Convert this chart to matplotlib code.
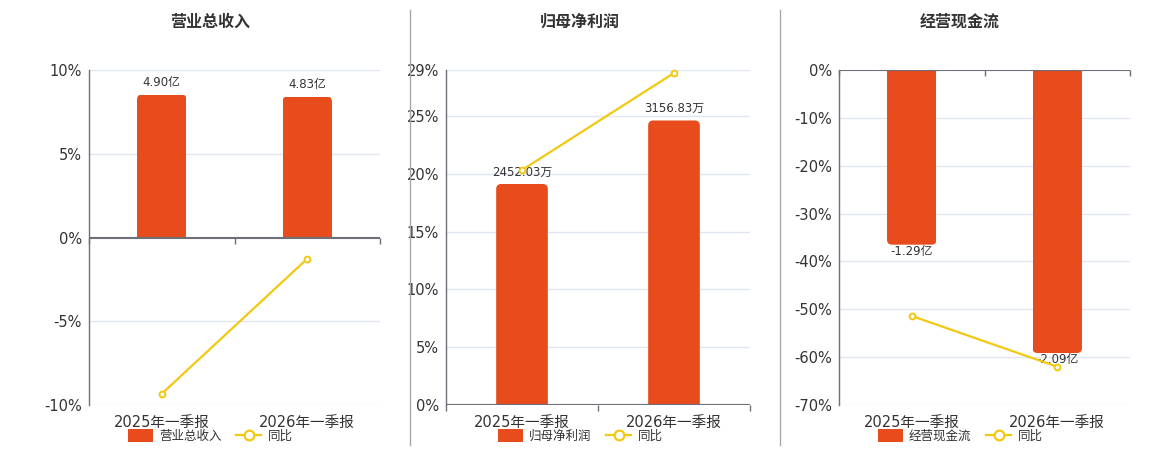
import matplotlib
matplotlib.use("Agg")
import matplotlib.pyplot as plt
from matplotlib.patches import FancyBboxPatch, Rectangle, Patch
from matplotlib.lines import Line2D

plt.rcParams['font.family'] = ['DejaVu Sans', 'Noto Sans CJK SC']

# ---------------- data ----------------
categories = ['2025年一季报', '2026年一季报']

revenue = [4.90, 4.83]            # 亿
revenue_yoy = [-9.33, -1.27]      # %

net_profit = [2452.03, 3156.83]   # 万
net_profit_yoy = [20.34, 28.74]   # %

cash_flow = [-1.29, -2.09]        # 亿
cash_flow_yoy = [-51.4, -62.0]    # %

titles = ['营业总收入', '归母净利润', '经营现金流']
units = ['亿', '万', '亿']
yoy_ticks = [[-10, -5, 0, 5, 10],
             [0, 5, 10, 15, 20, 25, 29],
             [-70, -60, -50, -40, -30, -20, -10, 0]]
# ---------------------------------------

W, H = 1160, 450
BAR = '#E84C1D'
LINE = '#F2C811'
TXT = '#333333'
AXC = '#6E7079'
GRID = '#E0E6F1'

fig = plt.figure(figsize=(W / 100, H / 100), dpi=100)
fig.patch.set_facecolor('white')

def rect(l, t, r, b):
    return [l / W, 1 - b / H, (r - l) / W, (b - t) / H]

panels = [
    dict(box=(89, 70, 380, 405), bars=revenue, yoy=revenue_yoy, ylim=(-10, 10),
         blim=(-5.74, 5.74), center=210),
    dict(box=(446, 70, 750, 405), bars=net_profit, yoy=net_profit_yoy, ylim=(0, 29),
         blim=(0, 3717), center=580),
    dict(box=(839, 70, 1130, 405), bars=cash_flow, yoy=cash_flow_yoy, ylim=(-70, 0),
         blim=(-2.474, 0), center=960),
]

bar_w = 0.34
radius_px = 5

for i, p in enumerate(panels):
    l, t, r, b = p['box']
    # base axis: grid + tick labels
    ax = fig.add_axes(rect(l, t, r, b))
    ax.set_xlim(-0.5, 1.5)
    ax.set_ylim(*p['ylim'])
    ticks = yoy_ticks[i]
    ax.set_yticks(ticks)
    ax.set_yticklabels([f'{v}%' for v in ticks])
    ax.set_xticks(range(len(categories)))
    ax.set_xticklabels(categories)
    ax.tick_params(axis='y', length=0, pad=5, labelsize=10.5, labelcolor=TXT)
    ax.tick_params(axis='x', length=0, pad=7, labelsize=10.5, labelcolor=TXT)
    for s in ['top', 'right', 'bottom']:
        ax.spines[s].set_visible(False)
    ax.spines['left'].set_color(AXC)
    ax.spines['left'].set_linewidth(1)
    for v in ticks:
        if v != 0:
            ax.axhline(v, color=GRID, lw=1, zorder=0)

    # bar axis
    ax2 = ax.twinx()
    ax2.set_xlim(-0.5, 1.5)
    ax2.set_ylim(*p['blim'])
    ax2.axis('off')

    aw_px = r - l
    ah_px = b - t
    dx = 2.0 / aw_px
    dy = (p['blim'][1] - p['blim'][0]) / ah_px
    rx = radius_px * dx
    ry = radius_px * dy
    for j, v in enumerate(p['bars']):
        x0 = j - bar_w / 2
        if v >= 0:
            box = FancyBboxPatch((x0, -ry), bar_w, v + ry,
                                 boxstyle=f'round,pad=0,rounding_size={rx}',
                                 mutation_aspect=dy / dx, fc=BAR, ec='none', lw=0)
            clip = Rectangle((x0, 0), bar_w, v, transform=ax2.transData)
            lab_y, va, off = v, 'bottom', 4
        else:
            box = FancyBboxPatch((x0, v), bar_w, -v + ry,
                                 boxstyle=f'round,pad=0,rounding_size={rx}',
                                 mutation_aspect=dy / dx, fc=BAR, ec='none', lw=0)
            clip = Rectangle((x0, v), bar_w, -v, transform=ax2.transData)
            lab_y, va, off = v, 'top', 0
        ax2.add_patch(box)
        box.set_clip_path(clip)
        ax2.annotate(f'{v:.2f}{units[i]}', (j, lab_y), xytext=(0, off),
                     textcoords='offset points', ha='center', va=va,
                     fontsize=8.5, color=TXT, zorder=5)

    # top axis: zero line + yoy line
    ax3 = ax.twinx()
    ax3.set_xlim(-0.5, 1.5)
    ax3.set_ylim(*p['ylim'])
    ax3.axis('off')
    ax3.axhline(0, color=AXC, lw=1.5, zorder=3)
    ax3.plot([-0.5, 0.5, 1.5], [0, 0, 0], ls='none', marker=3, ms=4,
             mew=1, color=AXC, zorder=3, clip_on=False)
    ax3.plot(range(len(categories)), p['yoy'], color=LINE, lw=1.6, marker='o',
             ms=4.2, mfc='white', mec=LINE, mew=1.4, zorder=4, clip_on=False)

    # title
    fig.text(p['center'] / W, 1 - 22 / H, titles[i], ha='center', va='center',
             fontsize=11.5, fontweight='bold', color=TXT)

    # legend
    handles = [Patch(fc=BAR, ec='none', label=titles[i]),
               Line2D([0], [0], color=LINE, lw=1.6, marker='o', ms=7,
                      mfc='white', mec=LINE, mew=1.6, label='同比')]
    fig.legend(handles=handles, loc='center',
               bbox_to_anchor=(p['center'] / W, 1 - 436 / H), ncol=2,
               frameon=False, fontsize=9, handlelength=2.0, handleheight=1.2,
               handletextpad=0.5, columnspacing=1.2, labelcolor=TXT,
               borderaxespad=0, borderpad=0)

# separators
for xs in (410, 780):
    fig.add_artist(Line2D([xs / W, xs / W], [1 - 10 / H, 1 - 445 / H],
                          color='#AAAAAA', lw=1))

fig.savefig('out.png', dpi=100, facecolor='white')
